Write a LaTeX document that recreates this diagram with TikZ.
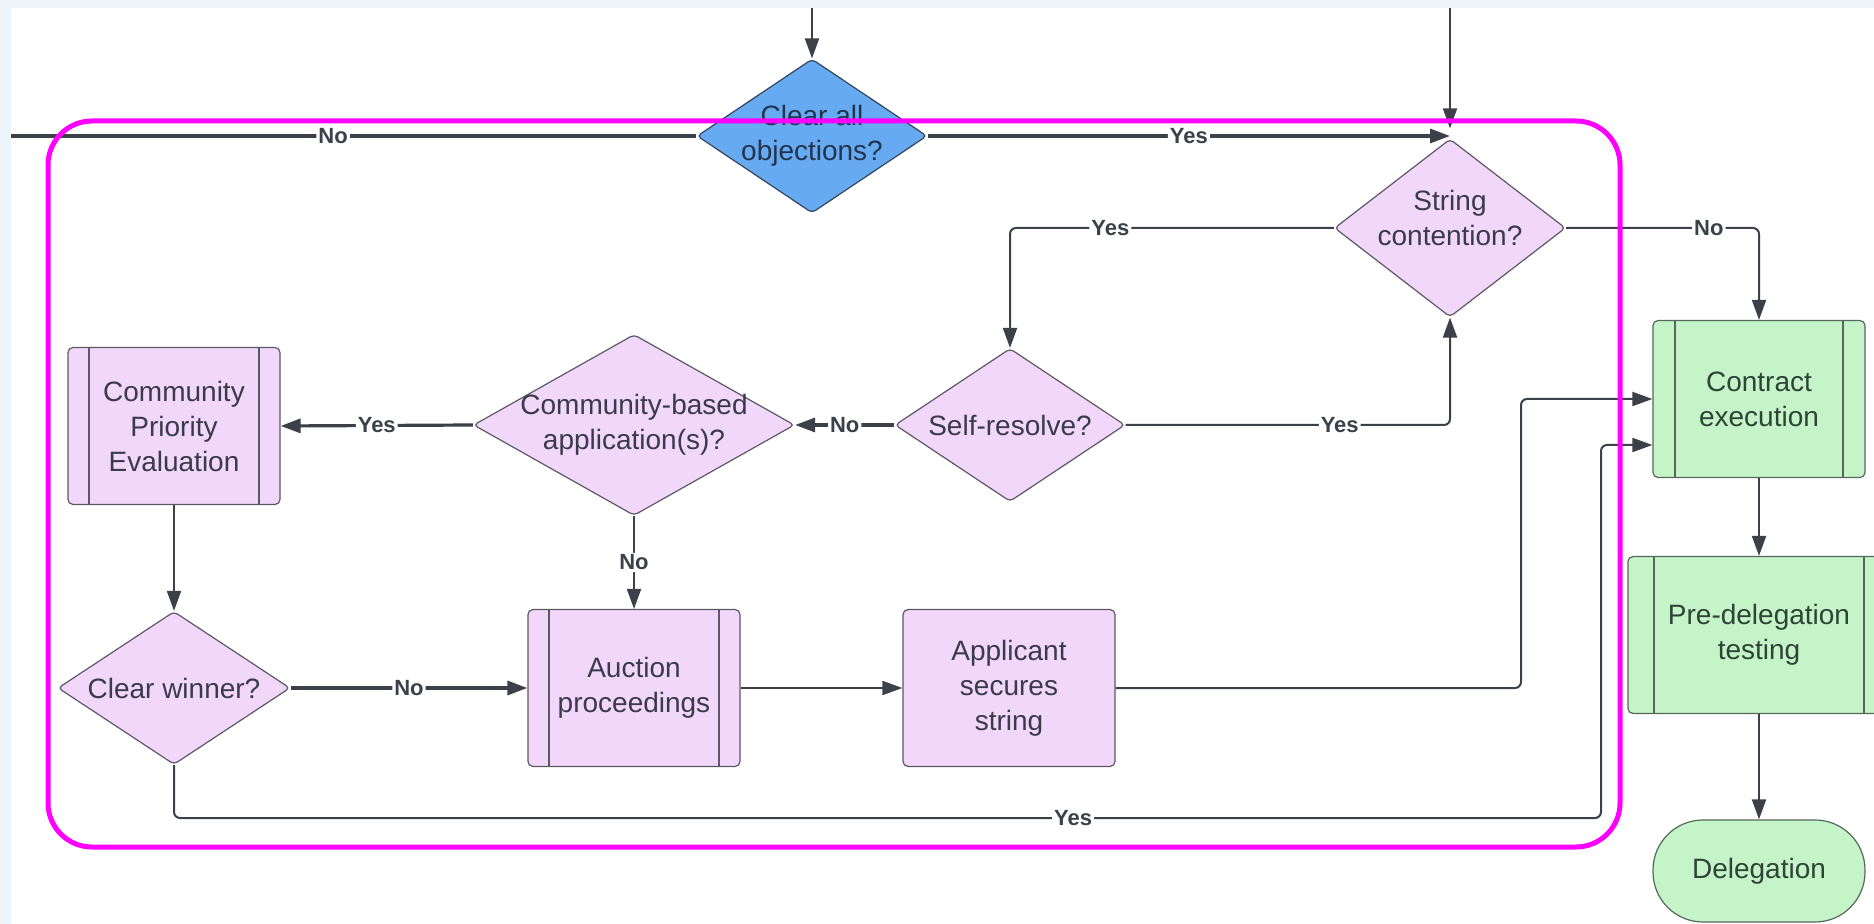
\documentclass[tikz,border=0pt]{standalone}
\usepackage{fontspec}
\setmainfont{Liberation Sans}
\usepackage{xcolor}
\definecolor{lavender}{HTML}{F1D8FA}
\definecolor{mint}{HTML}{C4F4C8}
\definecolor{skyblue}{HTML}{66AAF2}
\definecolor{wire}{HTML}{3C4048}
\definecolor{edgegray}{HTML}{5C5866}
\definecolor{edgegreen}{HTML}{56685A}
\definecolor{edgeblue}{HTML}{34465E}
\definecolor{inkgray}{HTML}{3A3A4C}
\definecolor{inkgreen}{HTML}{2E4436}
\definecolor{inkblue}{HTML}{22354F}
\definecolor{highlight}{HTML}{FF00FF}
\definecolor{paper}{HTML}{EEF5FB}
\definecolor{sidebar}{HTML}{D3E6F7}
\usetikzlibrary{calc,arrows.meta,shapes.geometric}

\begin{document}
\begin{tikzpicture}[x=0.5pt, y=-0.5pt,
  txt/.style={font=\fontsize{14}{17.5}\selectfont, text=inkgray, align=center},
  box/.style={draw=edgegray, fill=lavender, line width=0.6pt, rounded corners=2.5pt,
    minimum width=106pt, minimum height=78.5pt, inner sep=0pt, txt},
  sub/.style 2 args={path picture={
    \draw[#2, line width=0.6pt]
      ([xshift=#1]path picture bounding box.north west) -- ([xshift=#1]path picture bounding box.south west)
      ([xshift=-#1]path picture bounding box.north east) -- ([xshift=-#1]path picture bounding box.south east);}},
  greenbox/.style={box, draw=edgegreen, fill=mint, text=inkgreen},
  decision/.style={diamond, draw=edgegray, fill=lavender, line width=0.6pt,
    inner sep=0pt, rounded corners=2pt},
  flow/.style={draw=wire, line width=1pt, rounded corners=3pt,
    -{Triangle[length=10pt,width=7pt]}},
  heavy/.style={flow, line width=1.6pt},
  yesno/.style={font=\bfseries\fontsize{11}{13}\selectfont, text=wire, fill=white, inner sep=1pt}]

  \useasboundingbox (0,0) rectangle (1874,924);
  \clip (0,0) rectangle (1874,924);

  % Page behind the chart
  \fill[paper] (0,0) rectangle (1874,924);
  \shade[top color=paper, middle color=sidebar, bottom color=paper] (0,0) rectangle (11,924);
  \fill[white] (11,8) rectangle (1874,924);

  % Decisions
  \node[decision, fill=skyblue, draw=edgeblue, minimum width=115pt, minimum height=77pt,
    label={[txt, text=inkblue]center:{Clear all\\objections?}}] (clear) at (812,136) {};
  \node[decision, minimum width=115.5pt, minimum height=89pt,
    label={[txt, yshift=5pt]center:{String\\contention?}}] (sc) at (1450,228) {};
  \node[decision, minimum width=115pt, minimum height=76.5pt,
    label={[txt]center:{Self-resolve?}}] (sr) at (1010,425) {};
  \node[decision, minimum width=160.5pt, minimum height=90.5pt,
    label={[txt]center:{Community-based\\application(s)?}}] (cba) at (634,425) {};
  \node[decision, minimum width=116pt, minimum height=76.5pt,
    label={[txt]center:{Clear winner?}}] (cw) at (174,688) {};

  % Processes
  \node[box, sub={10.5pt}{edgegray}] (cpe) at (174,426) {Community\\Priority\\Evaluation};
  \node[box, sub={10.5pt}{edgegray}] (auction) at (634,688) {Auction\\proceedings};
  \node[box] (applicant) at (1009,688) {Applicant\\secures\\string};
  \node[greenbox, sub={11pt}{edgegreen}] (contract) at (1759,399) {Contract\\execution};
  \node[greenbox, minimum width=131pt, sub={13pt}{edgegreen}] (predel) at (1759,635) {Pre-delegation\\testing};
  \node[greenbox, minimum height=51pt, rounded corners=25pt] (deleg) at (1759,871) {Delegation};

  % Loose ends
  \coordinate (topa) at (812,8);
  \coordinate (topb) at (1450,8);
  \coordinate (lefta) at (11,136);
  \coordinate (cin) at ([yshift=-23pt]contract.west);

  % Connectors
  \draw[flow] (topa) -- (clear.north);
  \draw[flow] (topb) -- ([yshift=5pt]sc.north);
  \draw[heavy, -] (clear.west) -- node[yesno, pos=0.53] {No} (lefta);
  \draw[heavy] (clear.east) -- node[yesno] {Yes} (clear.east -| sc.north);
  \draw[flow] (sc.west) -| node[yesno, pos=0.345] {Yes} (sr.north);
  \draw[flow] (sc.east) -| node[yesno, pos=0.37] {No} (contract.north);
  \draw[flow] (sr.east) -| node[yesno, pos=0.33] {Yes} (sc.south);
  \draw[heavy] (sr.west) -- node[yesno] {No} (cba.east);
  \draw[heavy] (cba.west) -- node[yesno] {Yes} (cpe.east);
  \draw[flow] (cba.south) -- node[yesno] {No} (auction.north);
  \draw[flow] (cpe.south) -- (cw.north);
  \draw[heavy] (cw.east) -- node[yesno] {No} (auction.west);
  \draw[flow] (auction.east) -- (applicant.west);
  \draw[flow] (applicant.east) -| (1521,399) -- (contract.west);
  \draw[flow] (cw.south) |- node[yesno, pos=0.815] {Yes} (1601,818) |- (cin);
  \draw[flow] (contract.south) -- (predel.north);
  \draw[flow] (predel.south) -- (deleg.north);

  % Highlighted region
  \draw[highlight, line width=2.5pt, rounded corners=22pt] (48,121) rectangle (1620,847);
\end{tikzpicture}
\end{document}
